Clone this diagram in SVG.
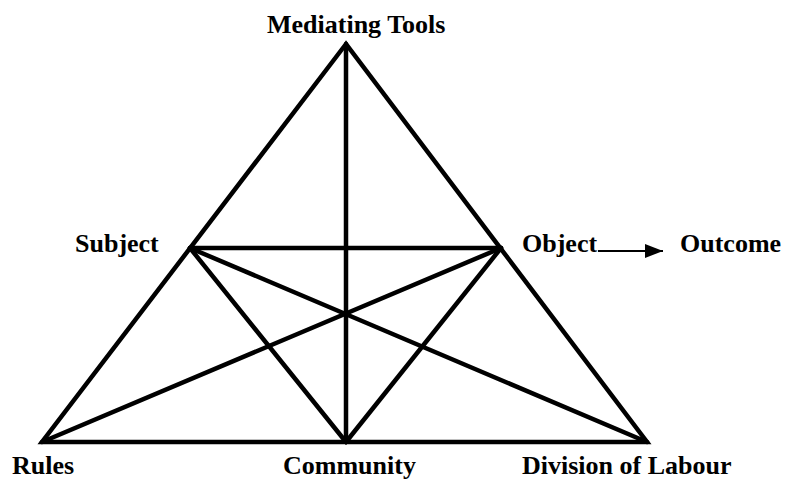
<svg xmlns="http://www.w3.org/2000/svg" width="786" height="482" viewBox="0 0 786 482">
<defs>
<marker id="ah" markerWidth="18" markerHeight="14" refX="18" refY="7" orient="auto" markerUnits="userSpaceOnUse" viewBox="0 0 18 14">
<path d="M0,0 L18,7 L0,14 z" fill="#000"/>
</marker>
<style>
.e{stroke:#000;stroke-width:4.5;fill:none;stroke-linejoin:miter;stroke-linecap:round}
.t{font-family:"Liberation Serif","Times New Roman",serif;font-weight:bold;font-size:26px;fill:#000}
</style>
</defs>
<rect width="786" height="482" fill="#fff"/>
<g id="connectors">
<polygon class="e" points="346,44 42,442 647,442"/>
<line class="e" x1="346" y1="44" x2="346" y2="442"/>
<line class="e" x1="190" y1="248" x2="501" y2="248"/>
<line class="e" x1="190" y1="248" x2="346" y2="442"/>
<line class="e" x1="190" y1="248" x2="647" y2="442"/>
<line class="e" x1="501" y1="248" x2="42" y2="442"/>
<line class="e" x1="501" y1="248" x2="346" y2="442"/>
<line x1="598" y1="251" x2="663" y2="251" stroke="#000" stroke-width="2" marker-end="url(#ah)"/>
</g>
<g id="mediating-tools"><text class="t" x="267" y="33">Mediating Tools</text></g>
<g id="subject"><text class="t" x="75" y="252">Subject</text></g>
<g id="object"><text class="t" x="522" y="252">Object</text></g>
<g id="outcome"><text class="t" x="680" y="252">Outcome</text></g>
<g id="rules"><text class="t" x="12" y="474">Rules</text></g>
<g id="community"><text class="t" x="283" y="474">Community</text></g>
<g id="division-of-labour"><text class="t" x="522" y="474">Division of Labour</text></g>
</svg>
